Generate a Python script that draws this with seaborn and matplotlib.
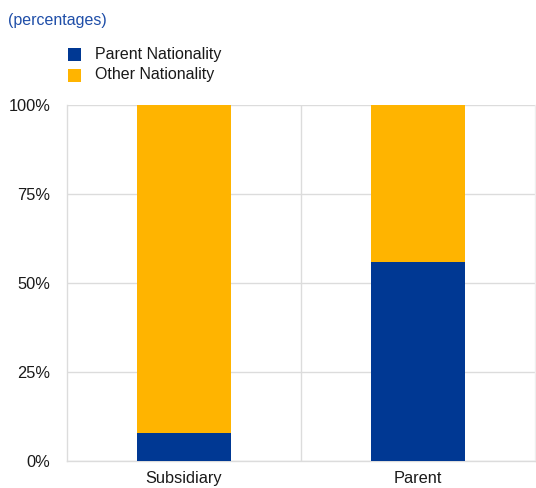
import matplotlib
matplotlib.use("Agg")
import matplotlib.pyplot as plt
import seaborn as sns
import pandas as pd
from matplotlib.patches import Rectangle
from matplotlib.ticker import FuncFormatter

categories = ["Subsidiary", "Parent"]
parent_nationality = [8, 56]
other_nationality = [92, 44]
series_names = ["Parent Nationality", "Other Nationality"]
ytick_values = [0, 25, 50, 75, 100]

BLUE = "#003893"
YELLOW = "#FFB400"
GRID = "#DCDCDC"
W, H = 536, 488

sns.set_style("white")
plt.rcParams["font.family"] = ["Liberation Sans", "DejaVu Sans"]

df = pd.DataFrame({
    "category": categories,
    "parent": parent_nationality,
    "total": [p + o for p, o in zip(parent_nationality, other_nationality)],
})

fig = plt.figure(figsize=(W / 100, H / 100), dpi=100)
ax = fig.add_axes([67 / W, 1 - 461 / H, 468 / W, 356 / H])

sns.barplot(data=df, x="category", y="total", color=YELLOW, width=0.4,
            linewidth=0, saturation=1, ax=ax, zorder=3)
sns.barplot(data=df, x="category", y="parent", color=BLUE, width=0.4,
            linewidth=0, saturation=1, ax=ax, zorder=4)

ax.set_xlim(-0.5, 1.5)
ax.set_ylim(0, 100)
ax.set_yticks(ytick_values)
ax.yaxis.set_major_formatter(FuncFormatter(lambda v, p: f"{int(v)}%"))
ax.set_xticks([0.5], minor=True)
ax.grid(True, axis="y", which="major", color=GRID, linewidth=1, zorder=0)
ax.grid(True, axis="x", which="minor", color=GRID, linewidth=1, zorder=0)
ax.grid(False, axis="x", which="major")
ax.set_xlabel("")
ax.set_ylabel("")
ax.tick_params(axis="both", which="both", length=0, labelsize=11.8, colors="#1a1a1a")
ax.tick_params(axis="y", pad=12)
ax.tick_params(axis="x", pad=7)
for s in ["left", "bottom", "right"]:
    ax.spines[s].set_color(GRID)
    ax.spines[s].set_linewidth(1)
ax.spines["right"].set_color("#EEEEEE")
ax.spines["top"].set_visible(False)

fig.text(8 / W, 1 - 20 / H, "(percentages)", color="#1F4EA8",
         fontsize=11.5, ha="left", va="center")

# legend drawn as squares + labels
colors = [BLUE, YELLOW]
row_y = [54, 75]
for name, c, yc in zip(series_names, colors, row_y):
    fig.patches.append(Rectangle((68 / W, 1 - (yc + 6.5) / H), 13 / W, 13 / H,
                                 transform=fig.transFigure, facecolor=c,
                                 edgecolor="none"))
    fig.text(95 / W, 1 - yc / H, name, color="#1a1a1a", fontsize=11.5,
             ha="left", va="center")

fig.savefig("out.png", dpi=100)
